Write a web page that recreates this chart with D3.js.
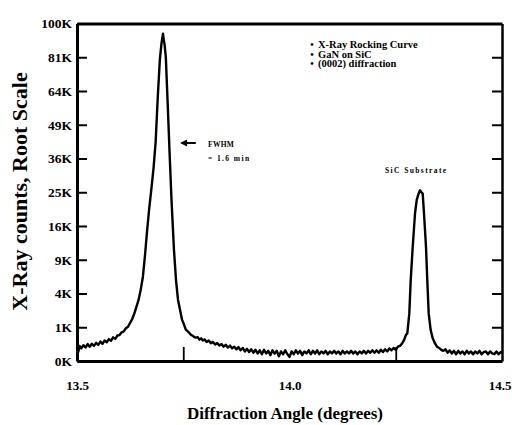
<!DOCTYPE html>
<html><head><meta charset="utf-8">
<script src="https://cdn.jsdelivr.net/npm/d3@7/dist/d3.min.js"></script>
<style>
html,body{margin:0;padding:0;background:#fff;}
svg{display:block;}
text{font-family:"Liberation Serif","Times New Roman",serif;font-weight:bold;fill:#000;}
</style>
</head><body><svg id="c" width="512" height="425"></svg>
<script>
// ---- data ----
const yTickValues = [0, 1, 4, 9, 16, 25, 36, 49, 64, 81, 100];
const yTickLabels = ["0K", "1K", "4K", "9K", "16K", "25K", "36K", "49K", "64K", "81K", "100K"];
const xTickValues = [13.5, 14.0, 14.5];
const xTickLabels = ["13.5", "14.0", "14.5"];
const xMinorTicks = [13.75, 14.25];
const legendLines = ["X-Ray Rocking Curve", "GaN on SiC", "(0002) diffraction"];
const xTitle = "Diffraction Angle (degrees)";
const yTitle = "X-Ray counts, Root Scale";
const peakNote = ["FWHM", "= 1.6 min"];
const substrateNote = "SiC Substrate";
// [angle (deg), counts (K)]
const curve = [
[13.500,0.17],[13.503,0.07],[13.506,0.20],[13.510,0.14],[13.515,0.22],[13.520,0.16],[13.525,0.25],
[13.530,0.18],[13.535,0.26],[13.540,0.20],[13.545,0.29],[13.550,0.23],[13.555,0.33],[13.560,0.26],
[13.565,0.37],[13.570,0.31],[13.575,0.42],[13.580,0.36],[13.585,0.49],[13.590,0.43],[13.595,0.57],
[13.600,0.59],[13.605,0.72],[13.610,0.77],[13.615,0.94],[13.620,1.03],[13.625,1.28],[13.630,1.55],
[13.635,2.0],[13.640,2.6],[13.645,3.3],[13.650,4.5],[13.655,6.2],[13.660,9.8],[13.665,15],
[13.670,20.5],[13.675,26],[13.680,32.5],[13.685,42],[13.690,61],[13.695,80],[13.699,89],
[13.7024,94],[13.7045,90],[13.706,88],[13.709,81],[13.713,60],[13.7176,39],[13.7224,22.7],
[13.7282,10.8],[13.733,5.7],[13.7376,3.3],[13.7424,2.3],[13.7471,1.5],
[13.752,1.15],[13.756,0.86],[13.760,0.78],[13.764,0.70],[13.768,0.60],[13.772,0.57],[13.776,0.50],
[13.780,0.48],[13.784,0.50],[13.788,0.40],[13.792,0.45],[13.796,0.37],[13.800,0.41],[13.805,0.32],
[13.810,0.37],[13.815,0.28],[13.820,0.32],[13.825,0.24],[13.830,0.28],[13.835,0.21],[13.840,0.25],
[13.845,0.18],[13.850,0.23],[13.855,0.16],[13.860,0.21],[13.865,0.14],[13.870,0.18],[13.875,0.12],
[13.880,0.17],[13.885,0.10],[13.890,0.15],[13.895,0.08],[13.900,0.13],[13.905,0.07],[13.910,0.12],
[13.915,0.06],[13.920,0.11],[13.925,0.05],[13.930,0.10],[13.935,0.04],[13.940,0.11],[13.945,0.05],
[13.950,0.09],[13.955,0.03],[13.960,0.10],[13.965,0.05],[13.970,0.09],[13.975,0.02],[13.980,0.08],
[13.985,0.04],[13.990,0.10],[13.995,0.04],[14.000,0.015],[14.005,0.08],[14.010,0.04],[14.015,0.10],
[14.020,0.05],[14.025,0.09],[14.030,0.03],[14.035,0.08],[14.040,0.05],[14.045,0.10],[14.050,0.04],
[14.055,0.09],[14.060,0.05],[14.065,0.10],[14.070,0.04],[14.075,0.08],[14.080,0.05],[14.085,0.09],
[14.090,0.04],[14.095,0.08],[14.100,0.05],[14.105,0.09],[14.110,0.05],[14.115,0.08],[14.120,0.04],
[14.125,0.09],[14.130,0.05],[14.135,0.08],[14.140,0.05],[14.145,0.09],[14.150,0.05],[14.155,0.08],
[14.160,0.04],[14.165,0.08],[14.170,0.05],[14.175,0.09],[14.180,0.05],[14.185,0.09],[14.190,0.06],
[14.195,0.10],[14.200,0.06],[14.205,0.10],[14.210,0.06],[14.215,0.11],[14.220,0.07],[14.225,0.12],
[14.230,0.08],[14.235,0.14],[14.240,0.10],[14.245,0.15],[14.250,0.11],[14.255,0.18],[14.260,0.20],
[14.265,0.27],[14.270,0.40],[14.274,0.60],[14.2772,0.67],[14.2819,1.99],[14.2852,5.74],[14.2899,11.4],
[14.2953,19.1],[14.2993,22.7],[14.3035,24.5],[14.3071,25.6],[14.3105,25.0],[14.3134,24.6],[14.3165,19.1],
[14.3212,11.4],[14.3242,5.74],[14.3275,1.99],[14.3322,0.84],[14.337,0.45],[14.3424,0.27],[14.347,0.18],
[14.352,0.15],[14.357,0.11],[14.362,0.09],[14.367,0.12],[14.372,0.06],[14.377,0.10],[14.382,0.05],
[14.387,0.09],[14.392,0.04],[14.397,0.09],[14.402,0.05],[14.407,0.08],[14.412,0.04],[14.417,0.09],
[14.422,0.05],[14.427,0.08],[14.432,0.04],[14.437,0.08],[14.442,0.05],[14.447,0.09],[14.452,0.04],
[14.457,0.07],[14.462,0.08],[14.467,0.04],[14.472,0.08],[14.477,0.05],[14.482,0.04],[14.487,0.08],
[14.492,0.04],[14.497,0.07],[14.500,0.06]
];

// ---- chart ----
const svg = d3.select("#c");
const L = 77, R = 502, T = 23.5, B = 361;
const x = d3.scaleLinear().domain([13.5, 14.5]).range([L, R]);
const y = d3.scaleSqrt().domain([0, 100]).range([B, T]);

// curve
svg.append("path").datum(curve)
  .attr("fill", "none").attr("stroke", "#000").attr("stroke-width", 2.4)
  .attr("stroke-linejoin", "round")
  .attr("d", d3.line().x(d => x(d[0])).y(d => y(d[1])));

function styleAxis(g, w) {
  g.select(".domain").attr("stroke", "#000").attr("stroke-width", w);
  g.selectAll(".tick line").attr("stroke", "#000").attr("stroke-width", 2);
}

// left axis
const gl = svg.append("g").attr("transform", `translate(${L},0)`)
  .call(d3.axisLeft(y).tickValues(yTickValues).tickFormat((d, i) => yTickLabels[i])
    .tickSizeInner(-10).tickSizeOuter(0).tickPadding(5));
styleAxis(gl, 3);
gl.selectAll(".tick text").style("font-family", '"Liberation Serif",serif').style("font-weight", "bold")
  .style("font-size", "13.5px").attr("fill", "#000");

// right axis
const gr = svg.append("g").attr("transform", `translate(${R},0)`)
  .call(d3.axisRight(y).tickValues(yTickValues.slice(1, -1)).tickFormat("")
    .tickSizeInner(-10).tickSizeOuter(0));
styleAxis(gr, 2.5);

// top line
const gt = svg.append("g").attr("transform", `translate(0,${T})`)
  .call(d3.axisTop(x).tickValues([]).tickSizeOuter(0));
styleAxis(gt, 3);

// bottom axis
const gb = svg.append("g").attr("transform", `translate(0,${B})`)
  .call(d3.axisBottom(x).tickValues(xTickValues).tickFormat((d, i) => xTickLabels[i])
    .tickSize(0).tickPadding(20));
styleAxis(gb, 3);
gb.selectAll(".tick text").style("font-family", '"Liberation Serif",serif').style("font-weight", "bold")
  .style("font-size", "13px").attr("fill", "#000");
gb.selectAll(".tick text").filter((d, i) => i === xTickValues.length - 1)
  .attr("text-anchor", "end").attr("x", 511 - R);

const gm = svg.append("g").attr("transform", `translate(0,${B})`)
  .call(d3.axisBottom(x).tickValues(xMinorTicks).tickFormat("").tickSizeInner(-14).tickSizeOuter(0));
gm.select(".domain").remove();
gm.selectAll(".tick line").attr("stroke", "#000").attr("stroke-width", 1.8);

// titles
svg.append("text").attr("x", 285).attr("y", 419).attr("text-anchor", "middle")
  .style("font-size", "17px").text(xTitle);
svg.append("text").attr("transform", "translate(27,191.5) rotate(-90)").attr("text-anchor", "middle")
  .style("font-size", "22px").text(yTitle);

// legend notes
legendLines.forEach((t, i) => {
  const yy = 48 + i * 9.6;
  svg.append("text").attr("x", 312).attr("y", yy).attr("text-anchor", "middle")
    .style("font-size", "10px").text("•");
  svg.append("text").attr("x", 318).attr("y", yy).style("font-size", "10.5px").text(t);
});

// FWHM annotation
const ay = 143;
svg.append("line").attr("x1", x(13.7465)).attr("x2", x(13.7795)).attr("y1", ay).attr("y2", ay)
  .attr("stroke", "#000").attr("stroke-width", 2);
svg.append("path").attr("d", `M${x(13.7425)},${ay} l7,-3.5 l0,7 z`).attr("fill", "#000");
svg.append("text").attr("x", 208).attr("y", 146.5).style("font-size", "7.5px").style("letter-spacing", "0.3px").text(peakNote[0]);
svg.append("text").attr("x", 208).attr("y", 160.5).style("font-size", "7.5px").style("letter-spacing", "1.4px").text(peakNote[1]);

// substrate annotation
svg.append("text").attr("x", 385).attr("y", 173).style("font-size", "7.5px").style("letter-spacing", "1.4px").text(substrateNote);
</script>
</body></html>
